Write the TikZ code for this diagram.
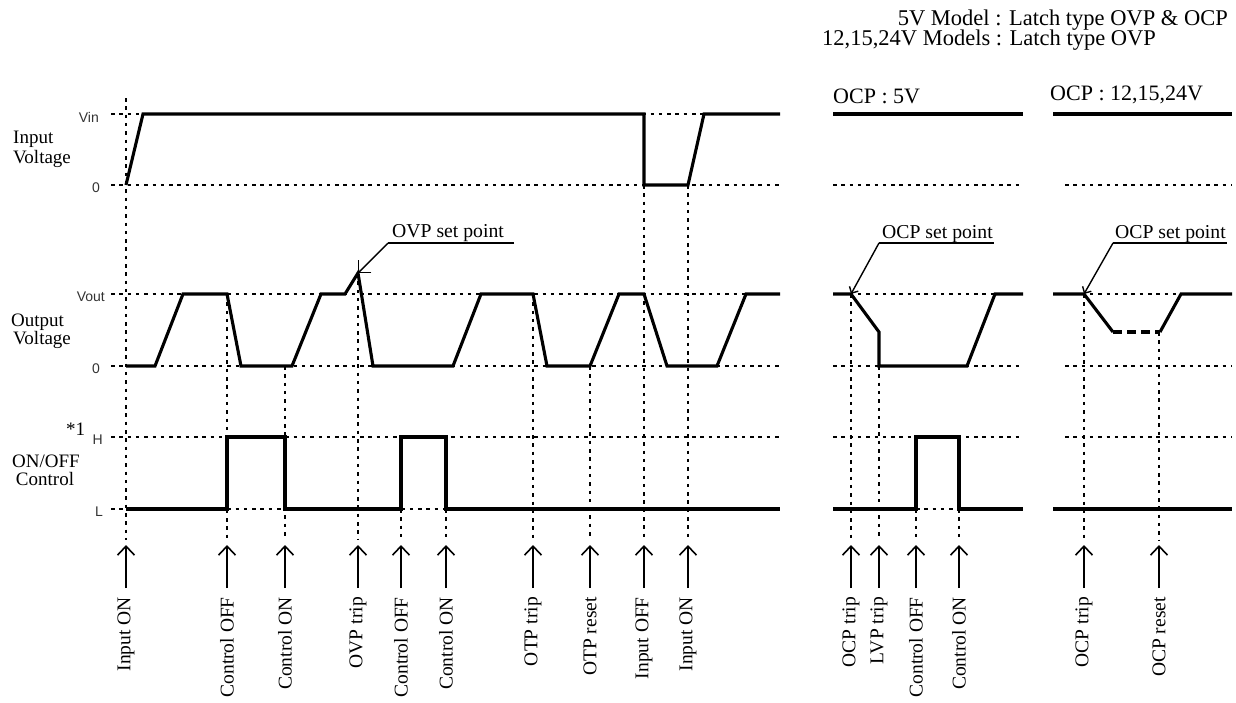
\documentclass[tikz,border=0pt]{standalone}
\usepackage{fontspec}
\setmainfont{Liberation Serif}
\newfontfamily\lsans{Liberation Sans}
\usetikzlibrary{arrows.meta}
\begin{document}
\begin{tikzpicture}[x=1pt,y=-1pt,
  sig/.style={line width=3.1pt, line join=miter, line cap=butt},
  gridline/.style={line width=1.8pt, dash pattern=on 3.5pt off 4.8pt},
  evarrow/.style={line width=1.6pt, -{Straight Barb[length=9pt,width=17pt]}},
  lead/.style={line width=1.4pt},
  lvl/.style={font=\lsans\fontsize{14}{16}\selectfont, text=black!80, anchor=east, inner sep=0pt},
  lbl/.style={font=\fontsize{19}{22}\selectfont, inner sep=0pt, anchor=base west},
  bigl/.style={font=\fontsize{22.5}{26}\selectfont, inner sep=0pt},
  setl/.style={font=\fontsize{19.7}{22}\selectfont, inner sep=0pt, anchor=base west},
  evlbl/.style={font=\fontsize{19.5}{22}\selectfont, rotate=90, anchor=east, inner sep=0pt},
]
\useasboundingbox (0,0) rectangle (1236,702);

% ---------- grid lines ----------
\foreach \yy in {114,185,294,366,437,509}
  \draw[gridline] (111,\yy) -- (780,\yy);
\foreach \yy in {185,294,366,437,509}
  \draw[gridline] (833,\yy) -- (1020,\yy);
\foreach \yy in {185,294,366,437}
  \draw[gridline] (1065,\yy) -- (1232,\yy);

% ---------- event lines, arrows, labels ----------
\foreach \xx/\ys/\txt/\nm in {
   126/98/Input ON/e1, 227/294/Control OFF/e2, 285/366/Control ON/e3,
   358/273/OVP trip/e4, 401/509/Control OFF/e5, 446/509/Control ON/e6,
   533/294/OTP trip/e7, 590/366/OTP reset/e8, 644/185/Input OFF/e9,
   688/185/Input ON/e10, 851/294/OCP trip/e11, 879/366/LVP trip/e12,
   916/509/Control OFF/e13, 959/509/Control ON/e14,
   1084/294/OCP trip/e15, 1159/332/OCP reset/e16} {
  \draw[gridline] (\xx,\ys) -- (\xx,540);
  \node[evlbl] (\nm) at (\xx,597) {\txt};
  \coordinate (\nm t) at (\xx,545);
  \draw[evarrow] (\nm.east) ++(0,-9) -- (\nm t);
}

% ---------- section 1 signals ----------
\draw[sig] (126,185) -- (143,114) -- (644,114) -- (644,185) -- (688,185) -- (704,114) -- (780,114);
\draw[sig] (126,366) -- (155,366) -- (183,294) -- (227,294) -- (241,366) -- (292,366)
  -- (321,294) -- (345,294) -- (358,273) -- (373,366) -- (453,366) -- (481,294)
  -- (533,294) -- (547,366) -- (590,366) -- (619,294) -- (644,294) -- (667,366)
  -- (717,366) -- (746,294) -- (780,294);
\draw[sig] (126,509) -- (227,509) -- (227,437) -- (285,437) -- (285,509) -- (401,509)
  -- (401,437) -- (446,437) -- (446,509) -- (780,509);

% ---------- section 2 signals ----------
\draw[sig] (833,114) -- (1023,114);
\draw[sig] (833,294) -- (851,294) -- (879,332) -- (879,366) -- (967,366) -- (995,294) -- (1023,294);
\draw[sig] (833,509) -- (916,509) -- (916,437) -- (959,437) -- (959,509) -- (1023,509);

% ---------- section 3 signals ----------
\draw[sig] (1053,114) -- (1232,114);
\draw[sig] (1053,294) -- (1084,294) -- (1113,332);
\draw[sig, dash pattern=on 9pt off 5pt] (1113,332) -- (1160,332);
\draw[sig] (1160,332) -- (1181,294) -- (1232,294);
\draw[sig] (1053,509) -- (1232,509);

% ---------- set point leaders ----------
\node[setl] (ovp) at (392,237) {OVP set point};
\coordinate (ovpk) at (388,243);
\coordinate (ovpt) at (358,273);
\draw[lead] (ovp.base east) ++(10,6) -- (ovpk);
\draw[lead, -{Straight Barb[length=9pt,width=18pt]}] (ovpk) -- (ovpt);

\node[setl] (ocpa) at (882,238) {OCP set point};
\coordinate (ocpak) at (879,243);
\coordinate (ocpat) at (851,294);
\draw[lead] (ocpak) -- (994,243);
\draw[lead, -{Straight Barb[length=5pt,width=10pt]}] (ocpak) -- (ocpat);

\node[setl] (ocpb) at (1115,238) {OCP set point};
\coordinate (ocpbk) at (1113,243);
\coordinate (ocpbt) at (1084,294);
\draw[lead] (ocpbk) -- (1227,243);
\draw[lead, -{Straight Barb[length=5pt,width=10pt]}] (ocpbk) -- (ocpbt);

% ---------- level labels ----------
\node[lvl] (vin) at (99,117) {Vin};
\node[lvl] (z1) at (100,188) {0};
\node[lvl] (vout) at (105,297) {Vout};
\node[lvl] (z2) at (100,369) {0};
\node[lvl] (hh) at (103,440) {H};
\node[lvl] (ll) at (103,512) {L};

% ---------- row labels ----------
\node[lbl] (in1) at (13,143) {Input};
\node[lbl] (in2) at (13,163) {Voltage};
\node[lbl] (out1) at (11,326) {Output};
\node[lbl] (out2) at (13,344) {Voltage};
\node[lbl, anchor=base] (ctl1) at (46,467) {ON/OFF};
\node[lbl, anchor=base] (ctl2) at (45,485) {Control};
\node[lbl] (star) at (66,435) {*1};

% ---------- headings ----------
\node[bigl, anchor=base east] (h1) at (1228,25) {5V Model : Latch type OVP \& OCP};
\node[bigl, anchor=base west] (h2) at (822,45) {12,15,24V Models : Latch type OVP};
\node[bigl, anchor=base west, font=\fontsize{22}{26}\selectfont] (s2) at (833,103) {OCP : 5V};
\node[bigl, anchor=base west, font=\fontsize{22}{26}\selectfont] (s3) at (1050,100) {OCP : 12,15,24V};
\end{tikzpicture}
\end{document}
